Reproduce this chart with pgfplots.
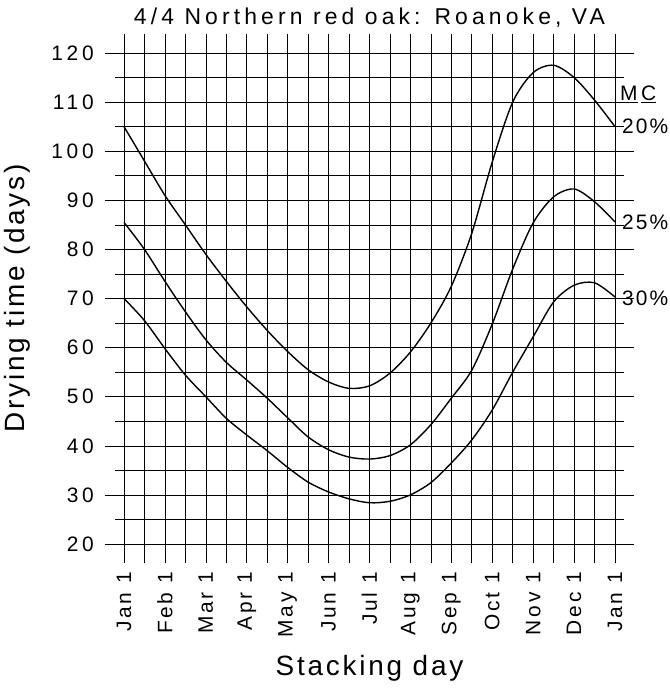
\documentclass[border=0pt]{standalone}
\usepackage{fontspec}
\setmainfont[LetterSpace=10]{Liberation Sans}
\newfontfamily\wide[LetterSpace=18]{Liberation Sans}
\newfontfamily\monthfont[LetterSpace=13]{Liberation Sans}
\usepackage{pgfplots}
\pgfplotsset{compat=1.18}
\begin{document}
\begin{tikzpicture}
\begin{axis}[
  scale only axis,
  width=491bp, height=491bp,
  xmin=0, xmax=12, ymin=20, ymax=120,
  xtick={0,0.5,...,12},
  xticklabels={Jan 1,,Feb 1,,Mar 1,,Apr 1,,May 1,,Jun 1,,Jul 1,,Aug 1,,Sep 1,,Oct 1,,Nov 1,,Dec 1,,Jan 1},
  ytick={20,30,...,120},
  minor ytick={25,35,...,115},
  grid=both,
  tick align=outside,
  major tick length=19bp,
  minor tick length=9bp,
  every tick/.style={black, line width=0.6pt},
  major grid style={black, line width=0.6pt},
  minor grid style={black, line width=0.6pt},
  axis line style={black, line width=0.6pt},
  /pgf/number format/assume math mode=true,
  yticklabel style={font=\wide\fontsize{21}{24}\selectfont, inner sep=0pt, xshift=-11bp},
  xticklabel style={font=\monthfont\fontsize{21}{24}\selectfont, rotate=90, anchor=east, inner sep=0pt, xshift=-9bp},
  title={4/4 Northern red oak: Roanoke, VA},
  title style={font=\wide\fontsize{23}{26}\selectfont, at={(0.5,1)}, anchor=base, yshift=23bp},
  xlabel={Stacking day},
  ylabel={Drying time (days)},
  label style={font=\fontsize{28}{32}\selectfont},
  xlabel style={at={(0.5,0)}, anchor=base, yshift=-131bp},
  ylabel style={at={(0,0.5)}, anchor=base, yshift=99bp},
  clip=false,
]
\addplot[black, line width=1.4pt, smooth, tension=0.5] coordinates {
(0,105)(0.5,98)(1,91)(1.5,85)(2,79)(2.5,73.5)(3,68.3)(3.5,63.5)(4,59.2)(4.5,55.5)(5,53)(5.5,51.7)(6,52.2)(6.5,54.8)(7,59.1)(7.5,65)(8,72.5)(8.5,83.3)(9,97.8)(9.5,110)(10,116)(10.5,117.5)(11,115)(11.5,110.4)(12,105)};
\addplot[black, line width=1.4pt, smooth, tension=0.5] coordinates {
(0,85.5)(0.5,80)(1,73.5)(1.5,67.3)(2,61.6)(2.5,57)(3,53.4)(3.5,49.7)(4,45.7)(4.5,41.8)(5,39.2)(5.5,37.7)(6,37.3)(6.5,38)(7,40.2)(7.5,44.3)(8,49.7)(8.5,55.4)(9,64.8)(9.5,76)(10,85.4)(10.5,90.7)(11,92.3)(11.5,89.7)(12,85.6)};
\addplot[black, line width=1.4pt, smooth, tension=0.5] coordinates {
(0,70)(0.5,65.5)(1,59.8)(1.5,54.4)(2,50)(2.5,45.6)(3,42.2)(3.5,39)(4,35.6)(4.5,32.6)(5,30.6)(5.5,29.2)(6,28.4)(6.5,28.7)(7,30)(7.5,32.5)(8,36.5)(8.5,41.2)(9,47.3)(9.5,55)(10,62.2)(10.5,69.3)(11,72.7)(11.5,73.2)(12,70.3)};
\node[anchor=base west, font=\fontsize{21}{24}\selectfont, inner sep=0pt, xshift=5bp] at (axis cs:12,110.3) {\underline{M}\,\underline{C}};
\node[anchor=west, font=\fontsize{21}{24}\selectfont, inner sep=0pt, xshift=7bp] at (axis cs:12,105) {20\%};
\node[anchor=west, font=\fontsize{21}{24}\selectfont, inner sep=0pt, xshift=7bp] at (axis cs:12,85.5) {25\%};
\node[anchor=west, font=\fontsize{21}{24}\selectfont, inner sep=0pt, xshift=7bp] at (axis cs:12,70) {30\%};
\end{axis}
\pgfresetboundingbox
\useasboundingbox (current axis.south west) ++(-124bp,-144bp) rectangle ++(670bp,688bp);
\end{tikzpicture}
\end{document}
